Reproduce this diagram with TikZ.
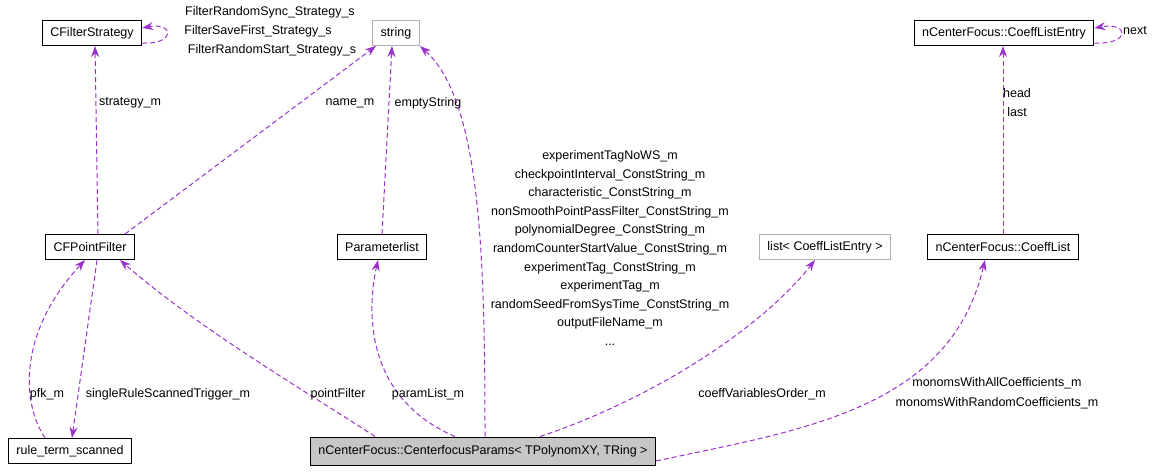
\documentclass[tikz,border=0pt]{standalone}
\usepackage{fontspec}
\setmainfont{Liberation Sans}
\usetikzlibrary{arrows.meta}
\definecolor{edgecol}{HTML}{9A32CD}
\tikzset{
  cls/.style={draw=black, fill=white, line width=1pt, minimum height=25pt, inner xsep=8pt, font=\fontsize{12.5}{15}\selectfont},
  ext/.style={cls, draw=gray!60},
  main/.style={cls, fill=gray!45, minimum height=28pt},
  rel/.style={draw=edgecol, dashed, line width=1pt, dash pattern=on 5pt off 3pt, -{Stealth[length=11pt,width=8pt]}},
  lbl/.style={font=\fontsize{12.5}{15}\selectfont, inner sep=1pt}
}
\begin{document}
\begin{tikzpicture}[x=1pt,y=-1pt]
\useasboundingbox (0,0) rectangle (1155,472);
% classes
\node[cls] (strategy) at (92,33) {CFilterStrategy};
\node[ext] (string) at (396,33) {string};
\node[cls] (entry) at (1004,33) {nCenterFocus::CoeffListEntry};
\node[cls] (filter) at (90,247) {CFPointFilter};
\node[cls] (params) at (382,247) {Parameterlist};
\node[ext] (list) at (825,247) {list< CoeffListEntry >};
\node[cls] (coeff) at (1003,247) {nCenterFocus::CoeffList};
\node[cls] (rule) at (70,451) {rule\_term\_scanned};
\node[main] (cfp) at (483,451) {nCenterFocus::CenterfocusParams< TPolynomXY, TRing >};
% relations
\draw[rel] ([xshift=8pt]filter.north) -- ([xshift=3pt]strategy.south);
\node[lbl] at (130,103) {strategy\_m};
\draw[rel] ([xshift=35pt]filter.north) -- ([xshift=-20pt]string.south);
\node[lbl] at (350,103) {name\_m};
\draw[rel] (params.north) -- ([xshift=10pt]params.north |- string.south);
\node[lbl] at (428,103) {emptyString};
\draw[rel] (strategy.east) ++(0,10) .. controls (175,45) and (175,22) .. ([yshift=-8pt]strategy.north east);
\node[lbl] at (270,12) {FilterRandomSync\_Strategy\_s};
\node[lbl] at (258,31) {FilterSaveFirst\_Strategy\_s};
\node[lbl] at (272,50) {FilterRandomStart\_Strategy\_s};
\draw[rel] ([xshift=2pt]cfp.north) .. controls (485,250) and (480,100) .. ([xshift=24pt]string.south);
\node[lbl, align=center] at (610,248) {experimentTagNoWS\_m\\[3.6pt]checkpointInterval\_ConstString\_m\\[3.6pt]characteristic\_ConstString\_m\\[3.6pt]nonSmoothPointPassFilter\_ConstString\_m\\[3.6pt]polynomialDegree\_ConstString\_m\\[3.6pt]randomCounterStartValue\_ConstString\_m\\[3.6pt]experimentTag\_ConstString\_m\\[3.6pt]experimentTag\_m\\[3.6pt]randomSeedFromSysTime\_ConstString\_m\\[3.6pt]outputFileName\_m\\[3.6pt]...};
\draw[rel] ([xshift=-108pt]cfp.north) .. controls (320,400) and (200,330) .. ([xshift=30pt]filter.south);
\node[lbl] at (338,394) {pointFilter};
\draw[rel] ([xshift=-28pt]cfp.north) .. controls (370,400) and (365,320) .. ([xshift=-4pt]params.south);
\node[lbl] at (428,394) {paramList\_m};
\draw[rel] ([xshift=57pt]cfp.north) .. controls (650,400) and (760,330) .. ([xshift=-10pt]list.south);
\node[lbl] at (762,394) {coeffVariablesOrder\_m};
\draw[rel] ([yshift=-10pt]cfp.east) .. controls (800,430) and (950,410) .. ([xshift=-18pt]coeff.south);
\node[lbl] at (997,383) {monomsWithAllCoefficients\_m};
\node[lbl] at (997,403) {monomsWithRandomCoefficients\_m};
\draw[rel] (coeff.north) -- (coeff.north |- entry.south);
\node[lbl] at (1017,93) {head};
\node[lbl] at (1017,112) {last};
\draw[rel] (entry.east) ++(0,10) .. controls (1130,45) and (1130,22) .. ([yshift=-8pt]entry.north east);
\node[lbl] at (1135,31) {next};
\draw[rel] ([xshift=-25pt]rule.north) .. controls (20,400) and (20,330) .. ([xshift=-5pt]filter.south);
\node[lbl] at (47,394) {pfk\_m};
\draw[rel] ([xshift=7pt]filter.south) -- ([xshift=2pt]rule.north);
\node[lbl] at (168,394) {singleRuleScannedTrigger\_m};
\end{tikzpicture}
\end{document}
